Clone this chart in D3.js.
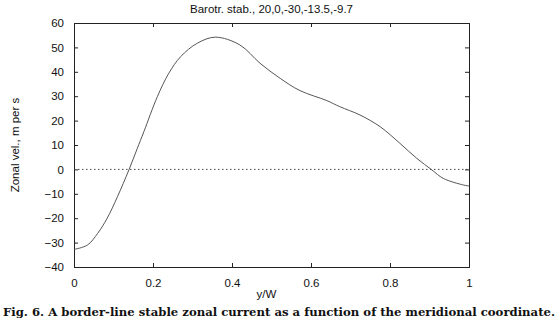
<!DOCTYPE html>
<html>
<head>
<meta charset="utf-8">
<script src="https://cdn.jsdelivr.net/npm/d3@7"></script>
<style>
  body { margin: 0; background: #fff; }
  svg text { font-family: "Liberation Sans", Arial, sans-serif; fill: #111; }
  .caption { font-family: "DejaVu Serif", "Liberation Serif", serif; font-weight: bold; }
</style>
</head>
<body>
<div id="chart"></div>
<script>
// Data
const yw = [0, 0.034, 0.06, 0.084, 0.11, 0.139, 0.16, 0.177, 0.211, 0.24, 0.27, 0.312, 0.358, 0.42, 0.471, 0.522, 0.572, 0.64, 0.673, 0.724, 0.775, 0.825, 0.868, 0.906, 0.935, 0.986, 1.0];
const vel = [-32.8, -31, -26.2, -20, -11.2, -0.2, 8.5, 15.5, 29.8, 39.4, 46.2, 51.7, 54.2, 51, 43.5, 37.3, 32.3, 28.2, 25.7, 22.3, 17.5, 10.7, 4.5, -0.2, -3.7, -6.4, -6.8];
const xTicks = [0, 0.2, 0.4, 0.6, 0.8, 1];
const yTicks = [-40, -30, -20, -10, 0, 10, 20, 30, 40, 50, 60];

const width = 560, height = 324;
const margin = { top: 23, right: 91, bottom: 57, left: 74 };
const chartWidth = width - margin.left - margin.right;
const chartHeight = height - margin.top - margin.bottom;

const svg = d3.select('#chart').append('svg')
    .attr('width', width)
    .attr('height', height);

const g = svg.append('g')
    .attr('transform', `translate(${margin.left},${margin.top})`);

// Scales
const xScale = d3.scaleLinear().domain([0, 1]).range([0, chartWidth]);
const yScale = d3.scaleLinear().domain([-40, 60]).range([chartHeight, 0]);

// Axes (inward ticks, mirrored on top and right)
const fmtX = d => d === 0 || d === 1 ? String(d) : d3.format('.1f')(d);
g.append('g')
    .attr('transform', `translate(0,${chartHeight})`)
    .call(d3.axisBottom(xScale).tickValues(xTicks).tickSize(-4).tickPadding(12).tickFormat(fmtX))
    .call(a => a.selectAll('text').attr('font-size', 11.5));
g.append('g')
    .call(d3.axisTop(xScale).tickValues(xTicks).tickSize(-4).tickFormat(''));
g.append('g')
    .call(d3.axisLeft(yScale).tickValues(yTicks).tickSize(-4).tickPadding(10))
    .call(a => a.selectAll('text').attr('font-size', 11.5));
g.append('g')
    .attr('transform', `translate(${chartWidth},0)`)
    .call(d3.axisRight(yScale).tickValues(yTicks).tickSize(-4).tickFormat(''));
g.selectAll('.domain').attr('stroke', '#222');
g.selectAll('.tick line').attr('stroke', '#222');

// Zero line
g.append('line')
    .attr('x1', 0).attr('x2', chartWidth)
    .attr('y1', yScale(0)).attr('y2', yScale(0))
    .attr('stroke', '#444')
    .attr('stroke-dasharray', '1.5,2.5');

// Curve
const line = d3.line()
    .x((d, i) => xScale(yw[i]))
    .y(d => yScale(d))
    .curve(d3.curveCatmullRom.alpha(0.5));

g.append('path')
    .datum(vel)
    .attr('d', line)
    .attr('fill', 'none')
    .attr('stroke', '#555')
    .attr('stroke-width', 1);

// Labels
svg.append('text')
    .attr('x', margin.left + chartWidth / 2).attr('y', 13)
    .attr('text-anchor', 'middle').attr('font-size', 11.5)
    .text('Barotr. stab., 20,0,-30,-13.5,-9.7');

svg.append('text')
    .attr('x', margin.left + chartWidth / 2 - 5).attr('y', 298)
    .attr('text-anchor', 'middle').attr('font-size', 11.5)
    .text('y/W');

svg.append('text')
    .attr('transform', `translate(19,${margin.top + chartHeight / 2}) rotate(-90)`)
    .attr('text-anchor', 'middle').attr('font-size', 11.5)
    .text('Zonal vel., m per s');

svg.append('text')
    .attr('class', 'caption')
    .attr('x', 3).attr('y', 316)
    .attr('font-size', 11.5)
    .attr('textLength', 552)
    .attr('lengthAdjust', 'spacingAndGlyphs')
    .text('Fig. 6. A border-line stable zonal current as a function of the meridional coordinate.');
</script>
</body>
</html>
